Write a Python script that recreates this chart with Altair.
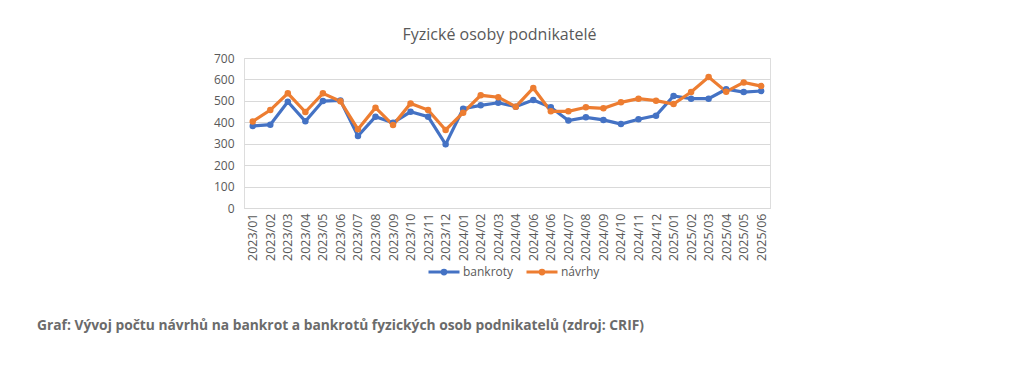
import altair as alt
import pandas as pd

labels = ["2023/01", "2023/02", "2023/03", "2023/04", "2023/05", "2023/06",
          "2023/07", "2023/08", "2023/09", "2023/10", "2023/11", "2023/12",
          "2024/01", "2024/02", "2024/03", "2024/04", "2024/06", "2024/06",
          "2024/07", "2024/08", "2024/09", "2024/10", "2024/11", "2024/12",
          "2025/01", "2025/02", "2025/03", "2025/04", "2025/05", "2025/06"]
bankroty = [383, 389, 496, 405, 499, 502, 336, 426, 398, 449, 426, 297,
            463, 479, 491, 473, 504, 470, 408, 423, 411, 392, 414, 431,
            523, 510, 510, 554, 541, 546]
navrhy = [404, 457, 535, 448, 535, 498, 367, 468, 387, 488, 457, 364,
          445, 526, 517, 473, 560, 451, 451, 470, 465, 493, 510, 501,
          485, 541, 611, 543, 586, 569]
series_names = ["bankroty", "návrhy"]
series_colors = ["#4472C4", "#ED7D31"]
title_text = "Fyzické osoby podnikatelé"
caption_text = "Graf: Vývoj počtu návrhů na bankrot a bankrotů fyzických osob podnikatelů (zdroj: CRIF)"

rows = []
for name, vals in zip(series_names, [bankroty, navrhy]):
    for i, v in enumerate(vals):
        rows.append({"idx": i, "series": name, "value": v})
df = pd.DataFrame(rows)

label_expr = "[" + ",".join("'%s'" % l for l in labels) + "][datum.value]"

FONT = "Open Sans"
GRAY = "#595959"

x_enc = alt.X("idx:O", title=None,
              axis=alt.Axis(labelExpr=label_expr, labelAngle=-90, labelFontSize=12.5,
                            labelColor=GRAY, labelFont=FONT, ticks=False,
                            domainColor="#d9d9d9", labelPadding=5, grid=False))
y_enc = alt.Y("value:Q", title=None,
              scale=alt.Scale(domain=[0, 700], nice=False),
              axis=alt.Axis(values=[0, 100, 200, 300, 400, 500, 600, 700],
                            labelFontSize=12, labelColor=GRAY, labelFont=FONT,
                            ticks=False, domain=False, gridColor="#d9d9d9",
                            labelPadding=10))
color_enc = alt.Color("series:N", title=None,
                      scale=alt.Scale(domain=series_names, range=series_colors),
                      legend=alt.Legend(orient="none", legendX=183, legendY=197,
                                        direction="horizontal",
                                        symbolType="M-1,0H1M-0.12,0A0.12,0.12 0 1,1 0.12,0A0.12,0.12 0 1,1 -0.12,0",
                                        symbolSize=961, symbolStrokeWidth=3,
                                        labelFontSize=12, labelColor=GRAY, labelFont=FONT,
                                        labelOffset=2, columnPadding=6))

base = alt.Chart(df).encode(x=x_enc, y=y_enc, color=color_enc)
lines = base.mark_line(strokeWidth=3.2)
points = base.mark_circle(size=42, opacity=1)

title = alt.Chart(pd.DataFrame({"t": [title_text]})).mark_text(
    font=FONT, fontSize=16, color=GRAY, align="center", baseline="alphabetic"
).encode(text="t:N", x=alt.value(255.5), y=alt.value(-17.6))

caption = alt.Chart(pd.DataFrame({"t": [caption_text]})).mark_text(
    font=FONT, fontSize=13.8, fontWeight="bold", color="#6b6b6b", align="left",
    baseline="alphabetic"
).encode(text="t:N", x=alt.value(-207), y=alt.value(272))

chart = alt.layer(lines, points, title, caption).properties(
    width=526, height=150,
    autosize=alt.AutoSizeParams(type="none"),
    padding={"left": 236, "top": 50, "right": 246, "bottom": 159},
).configure_view(stroke=None).configure(background="white")

chart.save("out.html", embed_options={"renderer": "svg", "actions": False})
